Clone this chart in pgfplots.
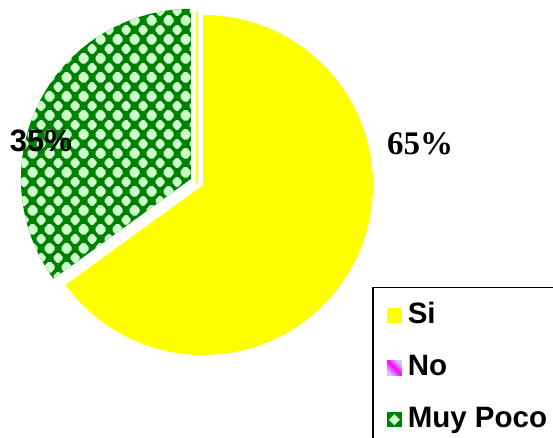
\documentclass[border=0pt]{standalone}
\usepackage{fontspec}
\setmainfont{Liberation Serif}
\newfontfamily\arial{Liberation Sans}
\usepackage{pgfplots}
\usepackage{pgfplotstable}
\pgfplotsset{compat=1.18}
\usetikzlibrary{patterns.meta}

\definecolor{pieyellow}{RGB}{255,255,0}
\definecolor{piegreen}{RGB}{0,128,0}
\definecolor{pielight}{RGB}{204,255,204}
\definecolor{piemagenta}{RGB}{255,0,255}
\definecolor{pielavender}{RGB}{204,204,255}

% diamond tiles of the "Muy Poco" slice
\tikzdeclarepattern{
  name=greendiamonds,
  type=uncolored,
  bounding box={(0pt,0pt) and (17pt,19pt)},
  tile size={(17pt,19pt)},
  code={
    \foreach \cx/\cy in {8.5/9.5,0/0,17/0,0/19,17/19}{
      \fill (\cx pt+4.8pt,\cy pt-1.2pt) -- (\cx pt+4.8pt,\cy pt+1.2pt)
         -- (\cx pt+1.2pt,\cy pt+5.1pt) -- (\cx pt-1.2pt,\cy pt+5.1pt)
         -- (\cx pt-4.8pt,\cy pt+1.2pt) -- (\cx pt-4.8pt,\cy pt-1.2pt)
         -- (\cx pt-1.2pt,\cy pt-5.1pt) -- (\cx pt+1.2pt,\cy pt-5.1pt) -- cycle;
    }
  }
}

\pgfplotstableread{
label value
Si 65
No 0
MuyPoco 35
}\piedata

\pgfplotstablegetelem{0}{value}\of\piedata \xdef\vSi{\pgfplotsretval}
\pgfplotstablegetelem{1}{value}\of\piedata \xdef\vNo{\pgfplotsretval}
\pgfplotstablegetelem{2}{value}\of\piedata \xdef\vMP{\pgfplotsretval}

\begin{document}
\begin{tikzpicture}
\begin{axis}[
  at={(0,0)}, anchor=origin,
  x=1pt, y=1pt,
  xmin=0, xmax=553, ymin=0, ymax=438,
  hide axis, clip=false,
  legend style={
    at={(axis cs:372,151)}, anchor=north west,
    draw=black, line width=1.5pt,
    inner xsep=14pt, inner ysep=12pt,
    font=\arial\bfseries\fontsize{29.5}{31}\selectfont,
    row sep=20pt, column sep=4pt,
    nodes={inner sep=2pt, text height=22pt, text depth=6pt},
    cells={anchor=west},
  },
]
  % Si
  \pgfmathsetmacro\aSi{90-3.6*\vSi}
  \fill[pieyellow] (axis cs:203,253) -- ++(90:170pt)
    arc[start angle=90, end angle=\aSi, radius=170pt] -- cycle;
  \draw[pieyellow, line width=1.2pt] (axis cs:197,426) -- (axis cs:197,255);
  % Muy Poco, pulled out along its bisector
  \pgfmathsetmacro\aMPs{90-3.6*(\vSi+\vNo)}
  \pgfmathsetmacro\aMPe{\aMPs-3.6*\vMP}
  \pgfmathsetmacro\aMPm{(\aMPs+\aMPe)/2}
  \path[fill=piegreen, postaction={pattern=greendiamonds, pattern color=pielight}]
    (axis cs:203,253) ++(\aMPm:13.5pt) -- ++(\aMPs:170pt)
    arc[start angle=\aMPs, end angle=\aMPe, radius=170pt] -- cycle;

  \node[font=\arial\bfseries\fontsize{31}{33}\selectfont] at (axis cs:41,297) {35\%};
  \node[font=\bfseries\fontsize{33}{35}\selectfont] at (axis cs:420,294) {65\%};

  \addlegendimage{legend image code/.code={\path[draw=none, fill=pieyellow] (0pt,-7.5pt) rectangle (15pt,7.5pt);}}
  \addlegendentry{Si}
  \addlegendimage{legend image code/.code={\path[draw=none, top color=pielavender, bottom color=pielavender, middle color=piemagenta, shading angle=-45] (0pt,-7.5pt) rectangle (15pt,7.5pt);}}
  \addlegendentry{No}
  \addlegendimage{legend image code/.code={\path[draw=none, fill=piegreen] (0pt,-7.5pt) rectangle (15pt,7.5pt);
      \path[draw=none, fill=pielight] (7.5pt,-5.5pt) -- (13pt,0pt) -- (7.5pt,5.5pt) -- (2pt,0pt) -- cycle;}}
  \addlegendentry{Muy Poco}
\end{axis}
\pgfresetboundingbox
\path[use as bounding box] (0,0) rectangle (553pt,438pt);
\end{tikzpicture}
\end{document}
